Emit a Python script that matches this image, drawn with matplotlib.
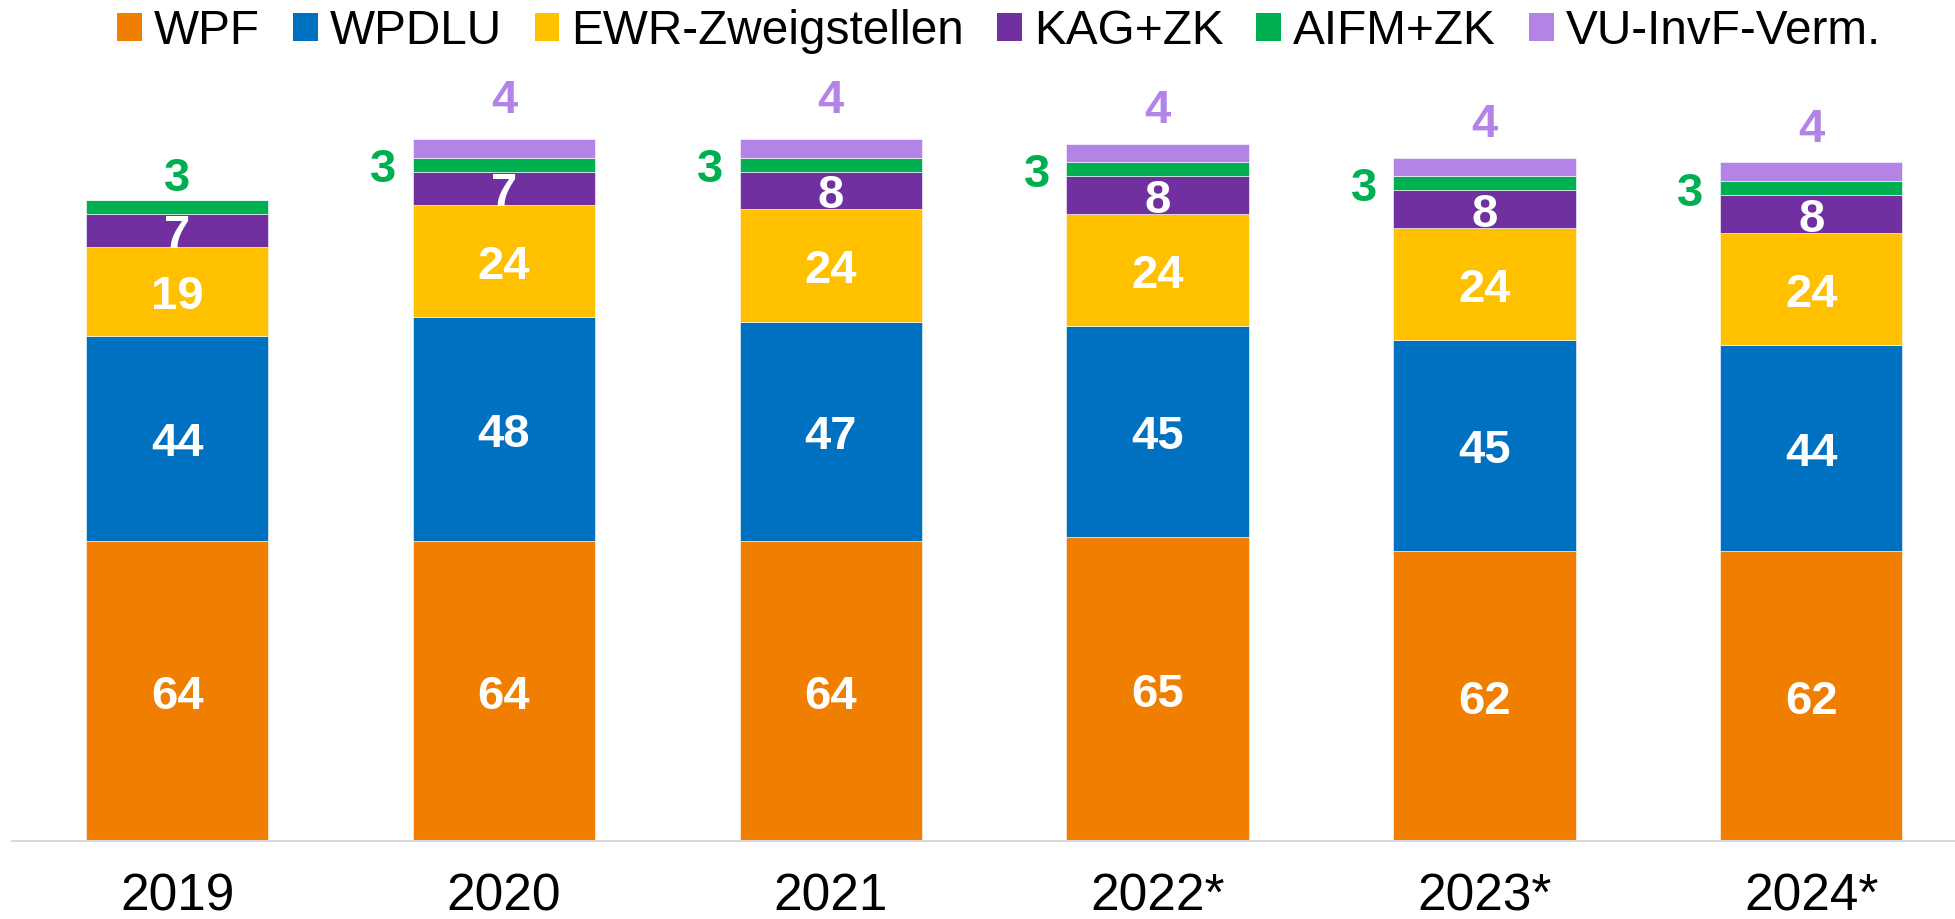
import matplotlib
matplotlib.use('Agg')
import matplotlib.pyplot as plt
from matplotlib.patches import Patch

plt.rcParams['font.family'] = ['Liberation Sans', 'DejaVu Sans']

# ---- data ----
years = ['2019', '2020', '2021', '2022*', '2023*', '2024*']
series_names = ['WPF', 'WPDLU', 'EWR-Zweigstellen', 'KAG+ZK', 'AIFM+ZK', 'VU-InvF-Verm.']
wpf = [64, 64, 64, 65, 62, 62]
wpdlu = [44, 48, 47, 45, 45, 44]
ewr = [19, 24, 24, 24, 24, 24]
kag = [7, 7, 8, 8, 8, 8]
aifm = [3, 3, 3, 3, 3, 3]
vu = [0, 4, 4, 4, 4, 4]

# ---- styles ----
colors = ['#F07E00', '#0070C0', '#FFC000', '#7030A0', '#00B050', '#B384E6']
vu_label_offset = [None, 8.2, 8.2, 7.0, 7.0, 7.0]   # data units above bar top
bar_width = 0.558

fig = plt.figure(figsize=(19.55, 9.19), dpi=100)
W, H = 1955, 919
ax = fig.add_axes([12 / W, 1 - 841 / H, 1 - 12 / W, 748.8 / H])

x = list(range(len(years)))
data = [wpf, wpdlu, ewr, kag, aifm, vu]
bottoms = [0] * len(years)
containers = []
for vals, col in zip(data, colors):
    bc = ax.bar(x, vals, bar_width, bottom=bottoms, color=col,
                edgecolor='white', linewidth=0.4)
    containers.append((bc, list(bottoms), vals))
    bottoms = [b + v for b, v in zip(bottoms, vals)]

# inside labels for first four series
for (bc, bot, vals) in containers[:4]:
    for i, (b, v) in enumerate(zip(bot, vals)):
        ax.text(i, b + v / 2 - 1.25, f'{v}', ha='center', va='center',
                color='white', fontsize=34, fontweight='bold')

# AIFM labels (green)
bc, bot, vals = containers[4]
for i, (b, v) in enumerate(zip(bot, vals)):
    if vu[i] == 0:
        ax.text(i, b + v + 4.4, f'{v}', ha='center', va='center',
                color=colors[4], fontsize=34, fontweight='bold', clip_on=False)
    else:
        ax.text(i - bar_width / 2 - 0.05, b + v / 2 - 1.2, f'{v}', ha='right',
                va='center', color=colors[4], fontsize=34, fontweight='bold',
                clip_on=False)

# VU labels (lavender)
bc, bot, vals = containers[5]
for i, (b, v) in enumerate(zip(bot, vals)):
    if v and vu_label_offset[i] is not None:
        ax.text(i, b + v + vu_label_offset[i], f'{v}', ha='center', va='center',
                color=colors[5], fontsize=34, fontweight='bold', clip_on=False)

ax.set_xlim(-0.5055, 5.440)
ax.set_ylim(0, 160)
ax.set_xticks(x)
ax.set_xticklabels(years, fontsize=37)
ax.tick_params(axis='x', length=0, pad=23)
ax.set_yticks([])
for s in ['top', 'left', 'right']:
    ax.spines[s].set_visible(False)
ax.spines['bottom'].set_color('#D9D9D9')
ax.spines['bottom'].set_linewidth(1.5)

handles = [Patch(facecolor=c) for c in colors]
fig.legend(handles, series_names, loc='center', bbox_to_anchor=(0.511, 0.9657),
           ncol=6, frameon=False, fontsize=34.4, handlelength=0.52,
           handleheight=0.52, handletextpad=0.25, columnspacing=0.69,
           borderpad=0, borderaxespad=0)

fig.savefig('out.png', dpi=100)
